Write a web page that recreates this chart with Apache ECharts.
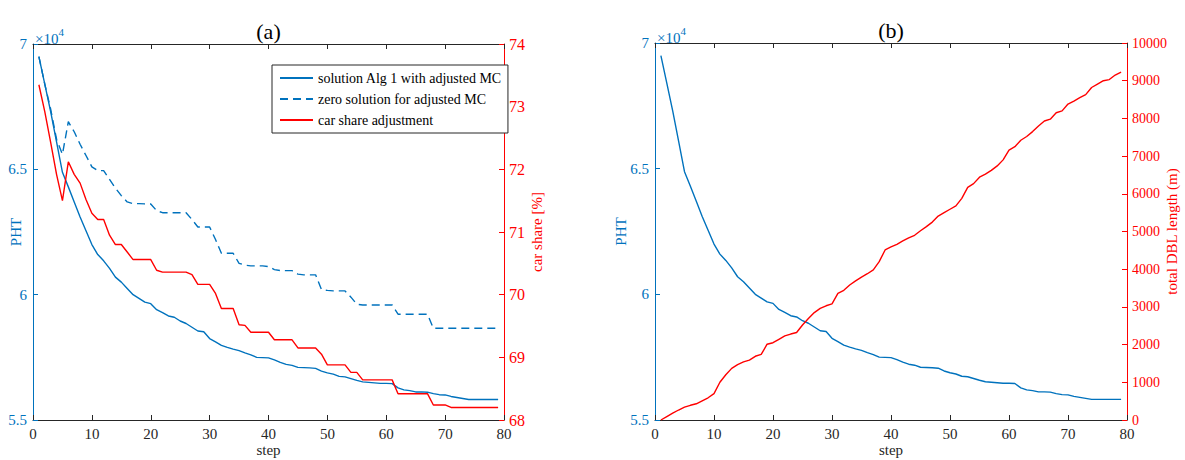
<!DOCTYPE html>
<html><head><meta charset="utf-8">
<script src="https://cdn.jsdelivr.net/npm/echarts@6/dist/echarts.min.js"></script>
<style>html,body{margin:0;padding:0;background:#fff}#c{width:1185px;height:460px}</style>
</head><body><div id="c"></div>
<script>
// ---- data ----
const steps = [1,2,3,4,5,6,7,8,9,10,11,12,13,14,15,16,17,18,19,20,21,22,23,24,25,26,27,28,29,30,31,32,33,34,35,36,37,38,39,40,41,42,43,44,45,46,47,48,49,50,51,52,53,54,55,56,57,58,59,60,61,62,63,64,65,66,67,68,69,70,71,72,73,74,75,76,77,78,79];
const phtAlg1 = [69500,68400,67300,66100,64880,64300,63700,63100,62550,62000,61600,61350,61050,60700,60500,60250,60000,59850,59700,59640,59400,59280,59150,59100,58950,58850,58700,58550,58520,58250,58120,57980,57900,57830,57770,57680,57600,57500,57490,57480,57400,57300,57220,57180,57100,57090,57080,57060,56950,56880,56830,56740,56720,56650,56580,56520,56500,56480,56460,56460,56450,56280,56200,56170,56120,56120,56110,56050,56010,56000,55940,55900,55860,55820,55820,55820,55820,55820,55820];
const phtZero = [69500,68400,67400,66200,65600,66900,66500,66000,65550,65100,64950,64950,64600,64250,63950,63700,63630,63630,63620,63620,63350,63270,63270,63270,63270,63270,63000,62700,62700,62700,62200,61650,61650,61650,61250,61180,61150,61150,61150,61120,61000,60960,60960,60960,60820,60790,60790,60790,60200,60170,60150,60150,60150,59900,59620,59590,59590,59590,59590,59590,59590,59220,59220,59220,59220,59220,59220,58660,58660,58660,58660,58660,58660,58660,58660,58660,58660,58660,58660];
const carShare = [73.35,72.92,72.43,71.92,71.50,72.12,71.92,71.78,71.52,71.30,71.20,71.20,70.95,70.80,70.80,70.68,70.56,70.56,70.56,70.56,70.39,70.36,70.36,70.36,70.36,70.36,70.32,70.165,70.165,70.165,70.02,69.78,69.78,69.78,69.52,69.51,69.40,69.40,69.40,69.40,69.28,69.28,69.28,69.28,69.15,69.15,69.15,69.15,69.05,68.88,68.88,68.88,68.88,68.76,68.76,68.64,68.64,68.64,68.64,68.64,68.64,68.42,68.42,68.42,68.42,68.42,68.42,68.24,68.24,68.24,68.20,68.20,68.20,68.20,68.20,68.20,68.20,68.20,68.20];
const dblLength = [0,90,180,265,340,390,430,510,590,700,1000,1200,1370,1470,1540,1590,1690,1740,2010,2050,2140,2230,2280,2320,2520,2690,2850,2960,3030,3080,3360,3440,3580,3690,3790,3880,3980,4200,4510,4590,4660,4750,4830,4900,5020,5130,5250,5410,5500,5590,5680,5880,6170,6270,6440,6520,6620,6740,6900,7160,7250,7420,7520,7650,7800,7930,7980,8150,8200,8380,8460,8550,8630,8820,8910,9000,9030,9150,9230];
const seriesNames = ['solution Alg 1 with adjusted MC','zero solution for adjusted MC','car share adjustment'];
const panelTitles = ['(a)','(b)'];
const axisNames = {x:'step', pht:'PHT', car:'car share [%]', dbl:'total DBL length (m)'};

// ---- styles ----
const BLUE = '#0072BD', RED = '#FF0000', DARK = '#262626';
const FONT = 'Liberation Serif';
const pairs = (ys) => steps.map((s, i) => [s, ys[i]]);

function xBottom(gi) {
  return {
    type: 'value', gridIndex: gi, position: 'bottom', min: 0, max: 80, interval: 10,
    name: axisNames.x, nameLocation: 'middle', nameGap: 22, nameMoveOverlap: false,
    nameTextStyle: {color: DARK, fontFamily: FONT, fontSize: 15},
    axisLine: {show: true, onZero: false, lineStyle: {color: DARK, width: 1}},
    axisTick: {show: true, inside: true, length: 5, lineStyle: {color: DARK}},
    axisLabel: {color: DARK, fontFamily: FONT, fontSize: 15, margin: 6, formatter: v => String(v)},
    splitLine: {show: false}
  };
}
function xTop(gi) {
  return {
    type: 'value', gridIndex: gi, position: 'top', min: 0, max: 80, interval: 10,
    axisLine: {show: true, onZero: false, lineStyle: {color: DARK, width: 1}},
    axisTick: {show: true, inside: true, length: 5, lineStyle: {color: DARK}},
    axisLabel: {show: false}, splitLine: {show: false}
  };
}
function yAxis(gi, pos, color, min, max, interval, name, nameGap, fmt, labelSize) {
  return {
    type: 'value', gridIndex: gi, position: pos, min, max, interval,
    name, nameLocation: 'middle', nameGap, nameMoveOverlap: false,
    nameTextStyle: {color, fontFamily: FONT, fontSize: 15},
    axisLine: {show: true, onZero: false, lineStyle: {color, width: 1}},
    axisTick: {show: true, inside: true, length: 5, lineStyle: {color}},
    axisLabel: {color, fontFamily: FONT, fontSize: labelSize, margin: pos === 'left' ? 6 : 5, formatter: fmt},
    splitLine: {show: false}
  };
}
const phtFmt = v => String(v / 10000);
const plainFmt = v => String(v);
const expText = (x, y) => ({type: 'text', left: x, top: y, style: {
  text: '{a|×10}{b|4}',
  rich: {a: {fontFamily: FONT, fontSize: 15, fill: BLUE, padding: [5, 0, 0, 0]},
         b: {fontFamily: FONT, fontSize: 11, fill: BLUE, verticalAlign: 'top'}}}});

const chart = echarts.init(document.getElementById('c'), null, {renderer: 'svg'});
chart.setOption({
  backgroundColor: '#fff',
  animation: false,
  textStyle: {fontFamily: FONT},
  grid: [
    {left: 33, top: 44, width: 471, height: 376, outerBoundsMode: 'none', containLabel: false},
    {left: 655, top: 43, width: 472, height: 377, outerBoundsMode: 'none', containLabel: false}
  ],
  xAxis: [xBottom(0), xTop(0), xBottom(1), xTop(1)],
  yAxis: [
    yAxis(0, 'left', BLUE, 55000, 70000, 5000, axisNames.pht, 10, phtFmt, 15),
    yAxis(0, 'right', RED, 68, 74, 1, axisNames.car, 25, plainFmt, 16),
    yAxis(1, 'left', BLUE, 55000, 70000, 5000, axisNames.pht, 27, phtFmt, 15),
    yAxis(1, 'right', RED, 0, 10000, 1000, axisNames.dbl, 37, plainFmt, 14)
  ],
  legend: {
    data: seriesNames, orient: 'vertical', left: 272, top: 65,
    selectedMode: false, itemWidth: 33, itemHeight: 14, itemGap: 7,
    padding: [6, 6, 6, 7], borderColor: DARK, borderWidth: 1, backgroundColor: '#fff',
    itemStyle: {opacity: 0},
    textStyle: {color: '#000', fontFamily: FONT, fontSize: 14}
  },
  graphic: [
    expText(35, 26),
    expText(657, 25),
    {type: 'text', x: 268.5, y: 31.5, style: {text: panelTitles[0], fill: '#000', fontFamily: FONT, fontSize: 22, align: 'center', verticalAlign: 'middle'}},
    {type: 'text', x: 891, y: 30.5, style: {text: panelTitles[1], fill: '#000', fontFamily: FONT, fontSize: 22, align: 'center', verticalAlign: 'middle'}}
  ],
  series: [
    {name: seriesNames[0], type: 'line', xAxisIndex: 0, yAxisIndex: 0, data: pairs(phtAlg1),
      showSymbol: false, symbol: 'none', lineStyle: {color: BLUE, width: 1.4}, itemStyle: {color: BLUE}, z: 3},
    {name: seriesNames[1], type: 'line', xAxisIndex: 0, yAxisIndex: 0, data: pairs(phtZero),
      showSymbol: false, symbol: 'none', lineStyle: {color: BLUE, width: 1.4, type: [8, 5]}, itemStyle: {color: BLUE}, z: 3},
    {name: seriesNames[2], type: 'line', xAxisIndex: 0, yAxisIndex: 1, data: pairs(carShare),
      showSymbol: false, symbol: 'none', lineStyle: {color: RED, width: 1.4}, itemStyle: {color: RED}, z: 4},
    {name: 'PHT', type: 'line', xAxisIndex: 2, yAxisIndex: 2, data: pairs(phtAlg1),
      showSymbol: false, symbol: 'none', lineStyle: {color: BLUE, width: 1.4}, itemStyle: {color: BLUE}, z: 3},
    {name: 'total DBL length', type: 'line', xAxisIndex: 2, yAxisIndex: 3, data: pairs(dblLength),
      showSymbol: false, symbol: 'none', lineStyle: {color: RED, width: 1.4}, itemStyle: {color: RED}, z: 4}
  ]
});
</script>
</body></html>
